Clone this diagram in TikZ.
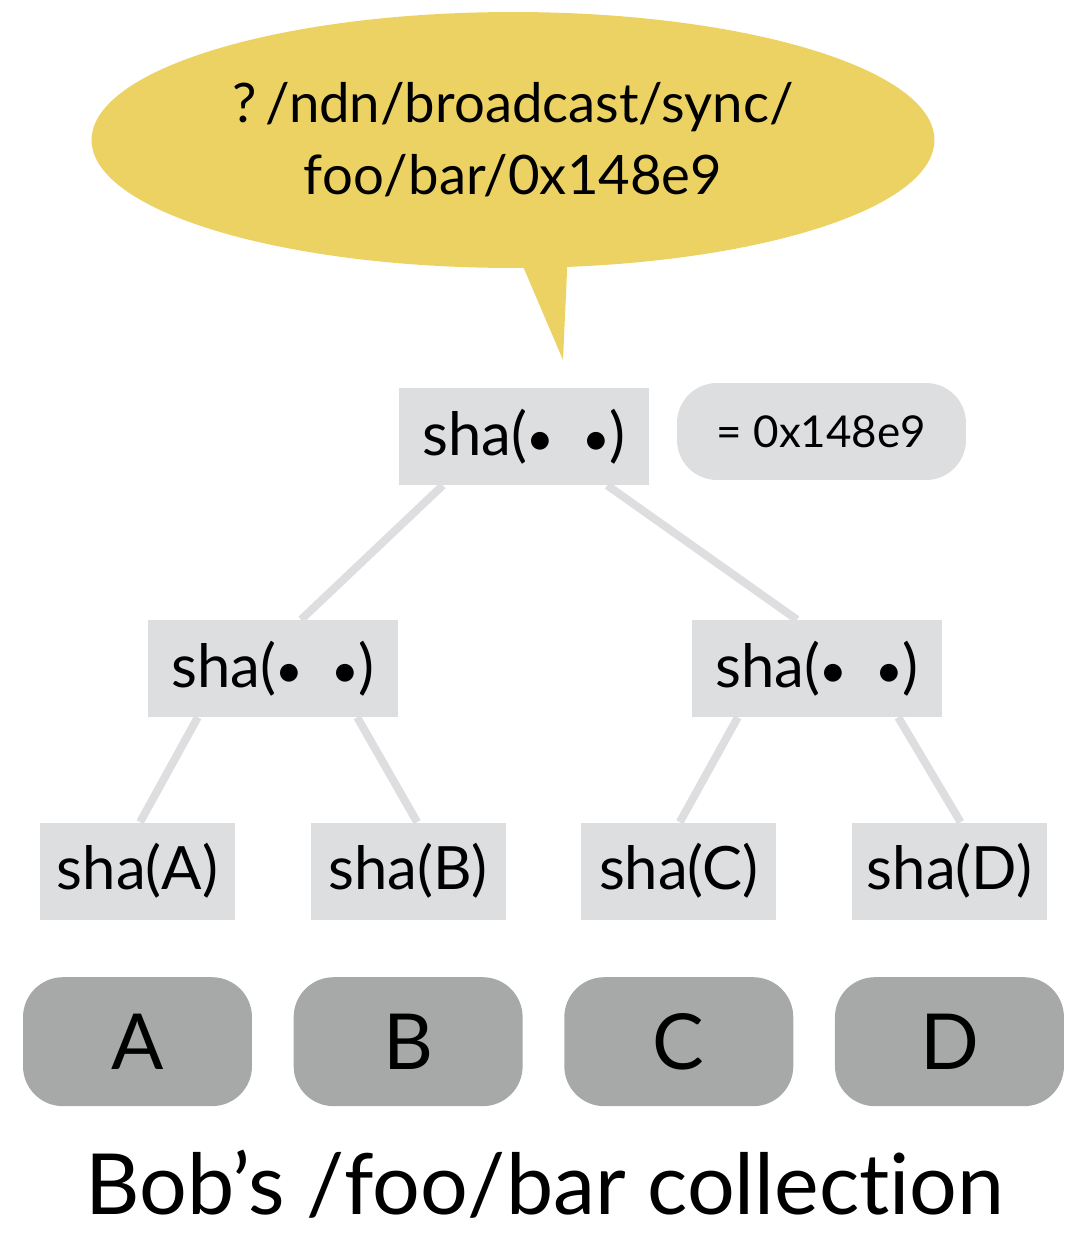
\documentclass[tikz,border=0pt]{standalone}
\usepackage{fontspec}
\setmainfont{Lato}[Ligatures={NoCommon,NoRare}]
\usetikzlibrary{positioning,shapes.geometric,calc,backgrounds}
\definecolor{bubble}{RGB}{236,210,98}
\definecolor{hashbox}{RGB}{221,222,224}
\definecolor{databox}{RGB}{166,169,168}
\definecolor{edge}{RGB}{222,222,224}
\newcommand{\hdot}{\scalebox{0.8}{•}}

\begin{document}
\begin{tikzpicture}[
  x=0.02cm, y=-0.02cm,
  node distance=1.5cm,
  hash/.style={fill=hashbox, minimum width=5cm, minimum height=1.94cm, inner sep=0pt, font=\fontsize{34}{34}\selectfont},
  leaf/.style={hash, minimum width=3.9cm},
  item/.style={fill=databox, rounded corners=0.8cm, minimum width=4.58cm, minimum height=2.58cm, inner sep=0pt, font=\fontsize{44}{44}\selectfont},
  link/.style={draw=edge, line width=0.16cm}
]
  \useasboundingbox (0,0) rectangle (1070,1237);

  % interest bubble
  \fill[bubble] (516,250) -- (563,360) -- (568,250) -- cycle;
  \node[ellipse, fill=bubble, minimum width=16.86cm, minimum height=5.12cm, align=center,
        font=\fontsize{31}{41}\selectfont] (bubble) at (513,140)
    {?\,/ndn/broadcast/sync/\\foo/bar/0x148e9};

  % hash tree
  \node[hash] (root) at (524,436.5) {sha(\hdot\hspace{0.55cm}\hdot)};
  \node[hash, rounded corners=0.8cm, minimum width=5.78cm, font=\fontsize{25}{25}\selectfont] (value) at (821.5,431.5) {= 0x148e9};
  \node[hash] (midL) at (273,668.5) {sha(\hdot\hspace{0.55cm}\hdot)};
  \node[hash] (midR) at (817,668.5) {sha(\hdot\hspace{0.55cm}\hdot)};

  \node[leaf] (shaA) at (137.5,871) {sha(A)};
  \node[leaf, right=of shaA] (shaB) {sha(B)};
  \node[leaf, right=of shaB] (shaC) {sha(C)};
  \node[leaf, right=of shaC] (shaD) {sha(D)};

  % collection items
  \node[item, below=1.14cm of shaA] (A) {A};
  \node[item, below=1.14cm of shaB] (B) {B};
  \node[item, below=1.14cm of shaC] (C) {C};
  \node[item, below=1.14cm of shaD] (D) {D};

  \node[anchor=base, inner sep=0pt, font=\fontsize{48}{48}\selectfont] (caption) at (545,1214) {Bob’s /foo/bar collection};

  \begin{scope}[on background layer]
    \draw[link] ($(root.south west)!0.176!(root.south east)$) -- ($(midL.north west)!0.612!(midL.north east)$);
    \draw[link] ($(root.south west)!0.832!(root.south east)$) -- ($(midR.north west)!0.42!(midR.north east)$);
    \draw[link] ($(midL.south west)!0.2!(midL.south east)$) -- ($(shaA.north west)!0.513!(shaA.north east)$);
    \draw[link] ($(midL.south west)!0.836!(midL.south east)$) -- ($(shaB.north west)!0.546!(shaB.north east)$);
    \draw[link] ($(midR.south west)!0.184!(midR.south east)$) -- ($(shaC.north west)!0.505!(shaC.north east)$);
    \draw[link] ($(midR.south west)!0.824!(midR.south east)$) -- ($(shaD.north west)!0.557!(shaD.north east)$);
  \end{scope}
\end{tikzpicture}
\end{document}
